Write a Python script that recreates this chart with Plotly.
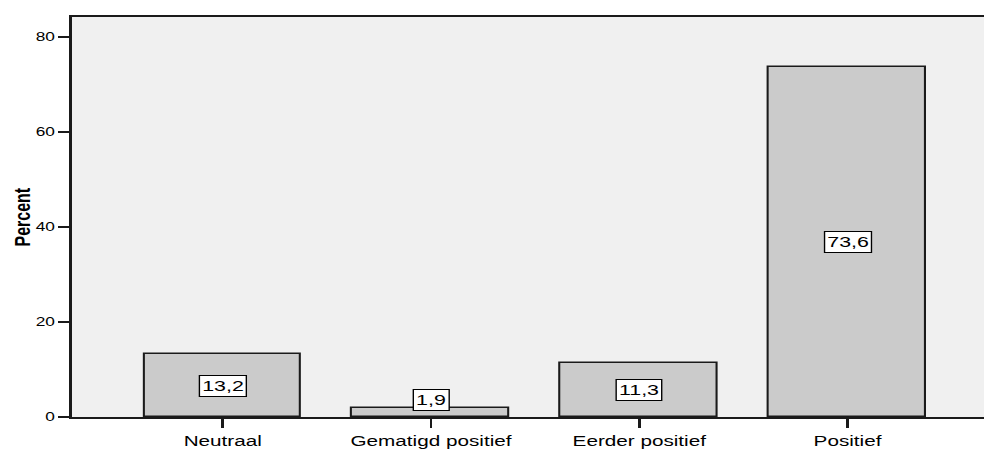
import plotly.graph_objects as go

# Percentage distribution per answer category
categories = ["Neutraal", "Gematigd positief", "Eerder positief", "Positief"]
percent = [13.2, 1.9, 11.3, 73.6]
y_ticks = [0, 20, 40, 60, 80]

# The chart is laid out narrow and then widened horizontally in the page
STRETCH = 1.38
PAGE_W, PAGE_H = 984, 449
FIG_W = PAGE_W / STRETCH

FONT = "Liberation Sans, Arial, Helvetica, sans-serif"
LINE = "#1a1a1a"

fig = go.Figure(
    go.Bar(
        x=categories,
        y=percent,
        width=0.754,
        marker=dict(color="#cbcbcb", line=dict(color=LINE, width=1.5)),
        hoverinfo="skip",
    )
)

# Value labels in white boxes, centred in each bar (kept clear of the baseline)
for cat, v in zip(categories, percent):
    fig.add_annotation(
        x=cat, y=max(v / 2, 3.6), xref="x", yref="y",
        text=f"{v:.1f}".replace(".", ","),
        showarrow=False,
        font=dict(family=FONT, size=15.5, color="black"),
        bgcolor="white", bordercolor="black", borderwidth=1, borderpad=1.5,
    )

# Rotated axis title
fig.add_annotation(
    x=0, y=0.5, xref="paper", yref="paper",
    xanchor="center", yanchor="middle", xshift=-36.5,
    text="<b>Percent</b>", textangle=-90, showarrow=False,
    font=dict(family=FONT, size=16, color="black"),
)

fig.update_layout(
    width=FIG_W, height=PAGE_H, autosize=False,
    margin=dict(l=51.8, r=0, t=17, b=28, pad=0),
    paper_bgcolor="white", plot_bgcolor="#f0f0f0",
    showlegend=False, bargap=0,
    font=dict(family=FONT, color="black"),
)
fig.update_xaxes(
    range=[-0.725, 3.655], showgrid=False, zeroline=False,
    showline=True, linecolor=LINE, linewidth=1.6, mirror=True,
    ticks="outside", ticklen=9, tickwidth=1.5, tickcolor=LINE,
    tickfont=dict(family=FONT, size=15, color="black"),
)
fig.update_yaxes(
    range=[0, 84.2], tickvals=y_ticks, showgrid=False, zeroline=False,
    showline=True, linecolor=LINE, linewidth=1.5,
    ticks="outside", ticklen=8, tickwidth=1.6, tickcolor=LINE,
    tickfont=dict(family=FONT, size=12.5, color="black"),
)

widen = (
    "var gd = document.getElementById('{plot_id}');"
    "[document.documentElement, document.body].forEach(function (el) {"
    "  el.style.margin = '0'; el.style.padding = '0';"
    "  el.style.height = '%dpx'; el.style.overflow = 'hidden';"
    "});"
    "gd.parentElement.style.height = '%dpx';"
    "gd.style.transformOrigin = '0 0';"
    "gd.style.transform = 'scaleX(%f)';" % (PAGE_H, PAGE_H, PAGE_W / FIG_W)
)

fig.write_html("out.html", post_script=widen, config={"displayModeBar": False})
